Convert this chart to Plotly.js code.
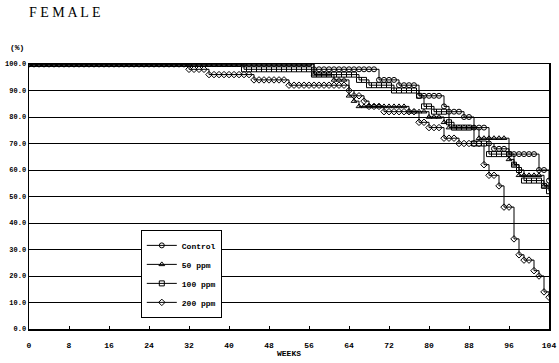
<!DOCTYPE html>
<html>
<head>
<meta charset="utf-8">
<script src="https://cdn.plot.ly/plotly-3.0.1.min.js"></script>
<style>html,body{margin:0;padding:0;background:#fff;}#chart{width:559px;height:363px;}</style>
</head>
<body>
<div id="chart"></div>
<script>
// Weeks on study
var weeks = [
0,1,2,3,4,5,6,7,8,9,
10,11,12,13,14,15,16,17,18,19,
20,21,22,23,24,25,26,27,28,29,
30,31,32,33,34,35,36,37,38,39,
40,41,42,43,44,45,46,47,48,49,
50,51,52,53,54,55,56,57,58,59,
60,61,62,63,64,65,66,67,68,69,
70,71,72,73,74,75,76,77,78,79,
80,81,82,83,84,85,86,87,88,89,
90,91,92,93,94,95,96,97,98,99,
100,101,102,103,104
];

// Survival (%)
var control = [
100,100,100,100,100,100,100,100,100,100,
100,100,100,100,100,100,100,100,100,100,
100,100,100,100,100,100,100,100,100,100,
100,100,100,100,100,100,100,100,100,100,
100,100,100,100,100,100,100,100,100,100,
100,100,100,100,100,100,100,98,98,98,
98,98,98,98,98,98,98,98,98,98,
94,94,94,94,92,92,92,92,88,88,
88,88,88,84,82,82,82,80,80,76,
76,76,70,68,68,68,66,66,66,66,
66,66,60,60,56
];

var ppm50 = [
100,100,100,100,100,100,100,100,100,100,
100,100,100,100,100,100,100,100,100,100,
100,100,100,100,100,100,100,100,100,100,
100,100,100,100,100,100,100,100,100,100,
100,100,100,100,100,100,100,100,100,100,
100,100,100,100,100,100,100,96,96,96,
96,94,94,94,88,86,84,84,84,84,
84,84,84,84,84,84,82,82,82,82,
80,80,80,78,76,76,76,76,76,76,
72,72,72,72,72,72,64,62,58,58,
58,58,58,54,54
];

var ppm100 = [
100,100,100,100,100,100,100,100,100,100,
100,100,100,100,100,100,100,100,100,100,
100,100,100,100,100,100,100,100,100,100,
100,100,100,100,100,100,100,100,100,100,
100,100,100,98,98,98,98,98,98,98,
98,98,98,98,98,98,98,96,96,96,
96,96,96,96,96,96,94,94,92,92,
92,92,92,90,90,90,90,90,88,84,
84,82,82,82,78,76,76,76,76,70,
70,70,66,66,66,66,66,62,60,56,
56,56,56,54,52
];

var ppm200 = [
100,100,100,100,100,100,100,100,100,100,
100,100,100,100,100,100,100,100,100,100,
100,100,100,100,100,100,100,100,100,100,
100,100,98,98,98,98,96,96,96,96,
96,96,96,96,96,94,94,94,94,94,
94,94,92,92,92,92,92,92,92,92,
92,92,92,92,90,88,88,86,84,84,
84,82,82,82,82,82,82,82,78,78,
76,76,76,72,72,72,70,70,70,70,
70,62,58,58,54,46,46,34,28,26,
26,22,20,14,12
];

var seriesNames = ["Control", "50 ppm", "100 ppm", "200 ppm"];
var seriesValues = [control, ppm50, ppm100, ppm200];
var seriesSymbols = ["circle-open", "triangle-up-open", "square-open", "diamond-open"];

var xTicks = [0,8,16,24,32,40,48,56,64,72,80,88,96,104];
var yTicks = [0,10,20,30,40,50,60,70,80,90,100];

var FONT = "Liberation Mono, DejaVu Sans Mono, monospace";

var traces = seriesValues.map(function(vals, i){
  return {
    x: weeks,
    y: vals,
    name: seriesNames[i],
    type: "scatter",
    mode: "lines+markers",
    line: {color: "#000", width: 1, shape: "hv"},
    marker: {symbol: seriesSymbols[i], size: 5, color: "#000", line: {color: "#000", width: 1}},
    hoverinfo: "skip"
  };
});

var layout = {
  width: 559,
  height: 363,
  margin: {l: 29, r: 10, t: 64, b: 34, pad: 0},
  paper_bgcolor: "#fff",
  plot_bgcolor: "#fff",
  showlegend: true,
  legend: {
    x: 0.215, y: 0.374, xanchor: "left", yanchor: "top",
    bgcolor: "#fff", bordercolor: "#000", borderwidth: 1,
    font: {family: FONT, size: 8, color: "#000", weight: "bold"},
    itemwidth: 30
  },
  xaxis: {
    range: [0, 104],
    tickvals: xTicks,
    ticktext: xTicks.map(String),
    ticks: "inside", ticklen: 3, tickwidth: 1, tickcolor: "#000",
    showline: true, linecolor: "#000", linewidth: 1.5, mirror: true,
    showgrid: false, zeroline: false,
    tickfont: {family: FONT, size: 8, color: "#000", weight: "bold"},
    ticklabelstandoff: 8,
    title: {text: "WEEKS", font: {family: FONT, size: 8, color: "#000", weight: "bold"}, standoff: 1}
  },
  yaxis: {
    range: [0, 100],
    tickvals: yTicks,
    ticktext: yTicks.map(function(v){ return v.toFixed(1); }),
    ticks: "",
    showline: true, linecolor: "#000", linewidth: 1.5, mirror: true,
    showgrid: true, gridcolor: "#000", gridwidth: 1,
    zeroline: false,
    tickfont: {family: FONT, size: 7, color: "#000", weight: "bold"}
  },
  annotations: [
    {text: "F E M A L E", xref: "paper", yref: "paper", x: -0.004, y: 1, yshift: 52,
     xanchor: "left", yanchor: "middle", showarrow: false,
     font: {family: "Liberation Serif, DejaVu Serif, serif", size: 14, color: "#000"}},
    {text: "(%)", xref: "paper", yref: "paper", x: 0, xshift: -21, y: 1, yshift: 17,
     xanchor: "left", yanchor: "middle", showarrow: false,
     font: {family: FONT, size: 8, color: "#000", weight: "bold"}}
  ]
};

Plotly.newPlot("chart", traces, layout, {displayModeBar: false, staticPlot: true});
</script>
</body>
</html>
